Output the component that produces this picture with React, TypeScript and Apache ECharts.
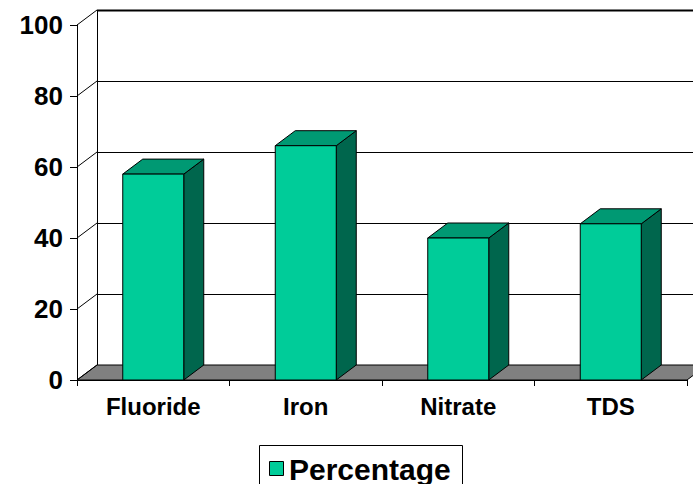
import React, { useEffect, useRef } from "react";
import * as echarts from "echarts";

const categories = ["Fluoride", "Iron", "Nitrate", "TDS"];
const percentage = [58, 66, 40, 44];
const yTicks = [0, 20, 40, 60, 80, 100];
const seriesName = "Percentage";

const FONT = "'Liberation Sans', Arial, sans-serif";
const DX = 20;
const DY = 15;
const FRONT = "#00CC99";
const TOP = "#009973";
const SIDE = "#00664D";

export default function App() {
  const ref = useRef<HTMLDivElement>(null);
  useEffect(() => {
    document.body.style.margin = "0";
    const chart = echarts.init(ref.current!, null, { renderer: "svg" });
    const option: any = {
      animation: false,
      backgroundColor: "#fff",
      grid: { left: 77, top: 25, width: 610, bottom: 104, containLabel: false },
      xAxis: {
        type: "category",
        data: categories,
        boundaryGap: true,
        axisLine: { show: true, lineStyle: { color: "#000", width: 1 } },
        axisTick: { show: true, length: 6, alignWithLabel: false, lineStyle: { color: "#000" } },
        axisLabel: {
          margin: 14,
          color: "#000",
          fontSize: 24,
          fontWeight: "bold",
          fontFamily: FONT,
        },
        splitLine: { show: false },
      },
      yAxis: {
        type: "value",
        min: 0,
        max: 100,
        interval: 20,
        axisLine: { show: true, lineStyle: { color: "#000", width: 1 } },
        axisTick: { show: true, length: 7, lineStyle: { color: "#000" } },
        axisLabel: {
          margin: 14,
          color: "#000",
          fontSize: 26,
          fontWeight: "bold",
          fontFamily: FONT,
        },
        splitLine: { show: false },
      },
      series: [
        {
          type: "custom",
          name: "walls",
          silent: true,
          z: 1,
          data: [[0, 0]],
          renderItem: (params: any, api: any) => {
            const cs = params.coordSys;
            const x0 = cs.x;
            const x1 = cs.x + cs.width;
            const base = api.coord([0, 0])[1];
            const children: any[] = [];
            children.push({
              type: "polygon",
              shape: {
                points: [
                  [x0, base],
                  [x0 + DX, base - DY],
                  [x1 + DX, base - DY],
                  [x1, base],
                ],
              },
              style: { fill: "#808080", stroke: "#000", lineWidth: 1 },
            });
            yTicks.forEach((t) => {
              const y = api.coord([0, t])[1];
              const yb = Math.round(y - DY) + 0.5;
              if (t > 0) {
                children.push({
                  type: "line",
                  shape: { x1: x0 + DX, y1: yb, x2: x1 + DX, y2: yb },
                  style: { stroke: "#000", lineWidth: t === 100 ? 2 : 1 },
                });
              }
              children.push({
                type: "line",
                shape: { x1: x0, y1: y, x2: x0 + DX, y2: y - DY },
                style: { stroke: "#000", lineWidth: 1 },
              });
            });
            const top = api.coord([0, 100])[1];
            children.push({
              type: "line",
              shape: { x1: x0 + DX + 0.5, y1: top - DY, x2: x0 + DX + 0.5, y2: base - DY },
              style: { stroke: "#000", lineWidth: 1 },
            });
            return { type: "group", children };
          },
        },
        {
          type: "custom",
          name: seriesName,
          z: 3,
          data: percentage.map((v, i) => [i, v]),
          renderItem: (params: any, api: any) => {
            const xi = api.value(0);
            const v = api.value(1);
            const [cx, yTop] = api.coord([xi, v]);
            const yBase = api.coord([xi, 0])[1];
            const bw = api.size([1, 0])[0] * 0.4;
            const l = cx - bw / 2;
            const r = cx + bw / 2;
            const st = { stroke: "#000", lineWidth: 1 };
            return {
              type: "group",
              children: [
                {
                  type: "polygon",
                  shape: {
                    points: [
                      [r, yTop],
                      [r + DX, yTop - DY],
                      [r + DX, yBase - DY],
                      [r, yBase],
                    ],
                  },
                  style: { fill: SIDE, ...st },
                },
                {
                  type: "polygon",
                  shape: {
                    points: [
                      [l, yTop],
                      [l + DX, yTop - DY],
                      [r + DX, yTop - DY],
                      [r, yTop],
                    ],
                  },
                  style: { fill: TOP, ...st },
                },
                {
                  type: "rect",
                  shape: { x: l, y: yTop, width: bw, height: yBase - yTop },
                  style: { fill: FRONT, ...st },
                },
              ],
            };
          },
        },
      ],
      graphic: [
        {
          type: "group",
          left: 259,
          top: 445,
          children: [
            {
              type: "rect",
              shape: { x: 0.5, y: 0.5, width: 203, height: 50 },
              style: { fill: "#fff", stroke: "#000", lineWidth: 1 },
            },
            {
              type: "rect",
              shape: { x: 10.5, y: 16.5, width: 14, height: 14 },
              style: { fill: FRONT, stroke: "#000", lineWidth: 1 },
            },
            {
              type: "text",
              x: 30,
              y: 24,
              style: {
                text: seriesName,
                fill: "#000",
                font: `bold 30px ${FONT}`,
                verticalAlign: "middle",
                align: "left",
              },
            },
          ],
        },
      ],
    };
    chart.setOption(option);
    return () => chart.dispose();
  }, []);
  return <div ref={ref} style={{ width: 693, height: 484 }} />;
}
